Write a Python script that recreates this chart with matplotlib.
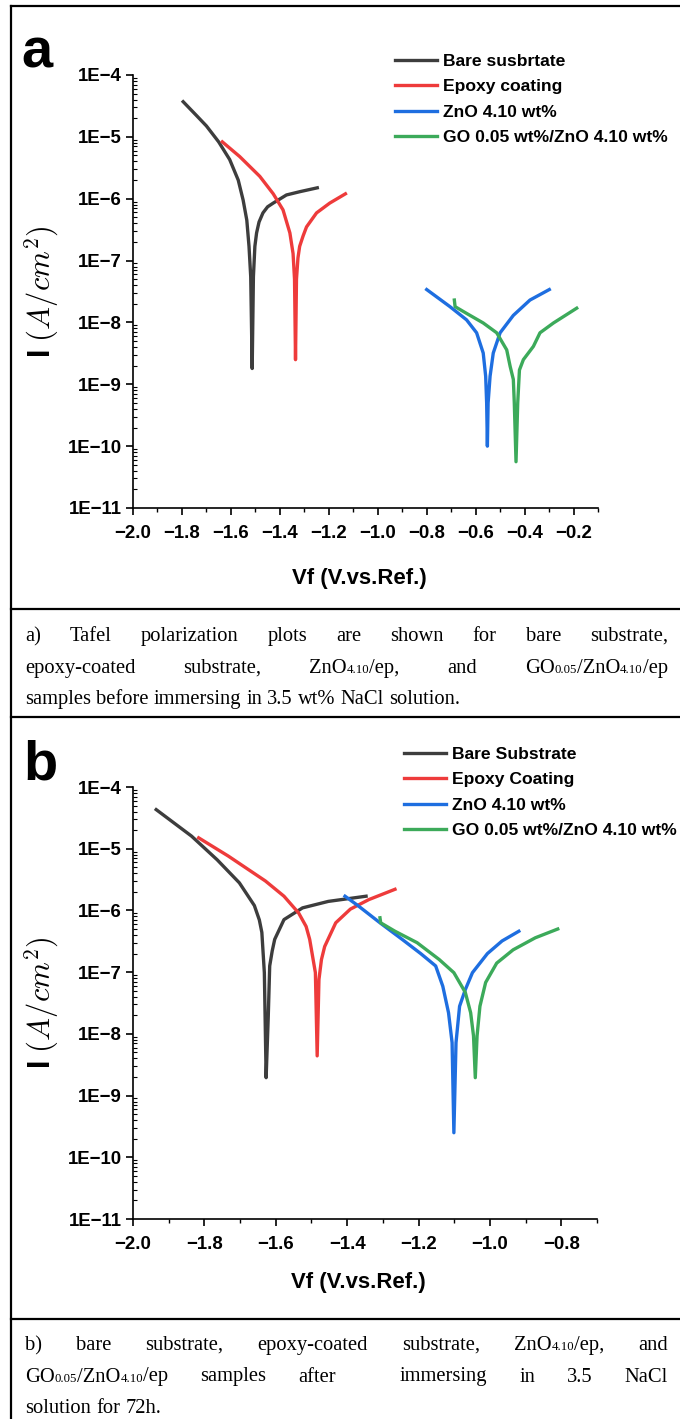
import matplotlib
matplotlib.use("Agg")
import numpy as np
import matplotlib.pyplot as plt
from matplotlib import font_manager
from matplotlib.lines import Line2D
from matplotlib.ticker import LogLocator, FuncFormatter, MultipleLocator, NullFormatter

# --------------------------
# Figure / fonts
# --------------------------
W, H, DPI = 680, 1419, 100

_names = {f.name for f in font_manager.fontManager.ttflist}
NARROW = "Liberation Sans Narrow" in _names
SANS = "Liberation Sans Narrow" if NARROW else "Liberation Sans"
FS = 1.0 if NARROW else 0.84   # shrink sizes when the narrow face is missing
SERIF = "Liberation Serif"

plt.rcParams["mathtext.fontset"] = "cm"

# --------------------------
# Data: potential (V) and current density (A/cm2)
# --------------------------
LABELS_A = ["Bare susbrtate", "Epoxy coating", "ZnO 4.10 wt%", "GO 0.05 wt%/ZnO 4.10 wt%"]
LABELS_B = ["Bare Substrate", "Epoxy Coating", "ZnO 4.10 wt%", "GO 0.05 wt%/ZnO 4.10 wt%"]
COLORS = ["#3d3d3d", "#ee3b3b", "#1e6ee0", "#3caa5a"]

# panel a (before immersion)
A_BARE_V = [-1.795, -1.74, -1.70, -1.65, -1.605, -1.57, -1.55, -1.535, -1.526, -1.519, -1.513,
            -1.508, -1.502, -1.495, -1.485, -1.469, -1.45, -1.427, -1.373, -1.318, -1.247]
A_BARE_I = [3.7e-5, 2.2e-5, 1.5e-5, 8.3e-6, 4.3e-6, 2.0e-6, 9.5e-7, 4.5e-7, 1.7e-7, 5.5e-8, 1.8e-9,
            5.5e-8, 1.7e-7, 2.8e-7, 4.2e-7, 5.9e-7, 7.4e-7, 8.5e-7, 1.15e-6, 1.3e-6, 1.5e-6]

A_EPOXY_V = [-1.635, -1.564, -1.482, -1.427, -1.387, -1.359, -1.346, -1.340, -1.336,
             -1.332, -1.326, -1.319, -1.305, -1.291, -1.250, -1.196, -1.132]
A_EPOXY_I = [8.3e-6, 4.8e-6, 2.3e-6, 1.2e-6, 6.6e-7, 2.8e-7, 1.3e-7, 5.0e-8, 2.5e-9,
             5.0e-8, 1.1e-7, 1.7e-7, 2.5e-7, 3.5e-7, 5.9e-7, 8.5e-7, 1.2e-6]

A_ZNO_V = [-0.800, -0.705, -0.637, -0.596, -0.569, -0.559, -0.555, -0.552,
           -0.549, -0.541, -0.528, -0.500, -0.446, -0.378, -0.299]
A_ZNO_I = [3.4e-8, 1.8e-8, 1.1e-8, 6.8e-9, 3.2e-9, 1.35e-9, 5.0e-10, 1.0e-10,
           5.0e-10, 1.35e-9, 3.2e-9, 6.8e-9, 1.3e-8, 2.3e-8, 3.4e-8]

A_GO_V = [-0.687, -0.684, -0.637, -0.569, -0.514, -0.473, -0.459, -0.446, -0.442, -0.435,
          -0.428, -0.421, -0.405, -0.364, -0.337, -0.282, -0.187]
A_GO_I = [2.3e-8, 1.8e-8, 1.4e-8, 9.8e-9, 6.8e-9, 3.6e-9, 1.95e-9, 1.2e-9, 5.0e-10, 5.6e-11,
          5.0e-10, 1.7e-9, 2.5e-9, 4.1e-9, 6.8e-9, 9.8e-9, 1.7e-8]

# panel b (after 72 h immersion)
B_BARE_V = [-1.935, -1.836, -1.764, -1.702, -1.660, -1.646, -1.639, -1.632, -1.627,
            -1.621, -1.617, -1.610, -1.603, -1.577, -1.525, -1.453, -1.347]
B_BARE_I = [4.3e-5, 1.6e-5, 6.6e-6, 2.8e-6, 1.2e-6, 7.0e-7, 4.4e-7, 9.8e-8, 1.95e-9,
            1.95e-8, 1.26e-7, 2.2e-7, 3.4e-7, 7.1e-7, 1.1e-6, 1.4e-6, 1.7e-6]

B_EPOXY_V = [-1.816, -1.733, -1.629, -1.577, -1.536, -1.515, -1.505, -1.489, -1.484,
             -1.479, -1.472, -1.463, -1.432, -1.391, -1.339, -1.266]
B_EPOXY_I = [1.5e-5, 7.6e-6, 3.0e-6, 1.7e-6, 9.1e-7, 5.5e-7, 3.4e-7, 9.8e-8, 4.4e-9,
             7.6e-8, 1.6e-7, 2.6e-7, 6.3e-7, 1.05e-6, 1.5e-6, 2.2e-6]

B_ZNO_V = [-1.406, -1.370, -1.308, -1.246, -1.194, -1.152, -1.132, -1.116, -1.106, -1.101,
           -1.095, -1.085, -1.069, -1.049, -1.007, -0.966, -0.919]
B_ZNO_I = [1.7e-6, 1.2e-6, 6.3e-7, 3.4e-7, 2.0e-7, 1.26e-7, 5.9e-8, 2.2e-8, 7.2e-9, 2.5e-10,
           7.2e-9, 2.8e-8, 5.2e-8, 9.8e-8, 2.0e-7, 3.2e-7, 4.6e-7]

B_GO_V = [-1.308, -1.306, -1.266, -1.204, -1.142, -1.101, -1.069, -1.054, -1.046, -1.041,
          -1.036, -1.028, -1.012, -0.981, -0.935, -0.873, -0.810]
B_GO_I = [7.6e-7, 6.3e-7, 4.6e-7, 3.0e-7, 1.6e-7, 9.8e-8, 4.7e-8, 2.2e-8, 9.3e-9, 1.95e-9,
          9.3e-9, 2.8e-8, 6.8e-8, 1.4e-7, 2.3e-7, 3.6e-7, 5.0e-7]

X_TICKS_A = [-2.0, -1.8, -1.6, -1.4, -1.2, -1.0, -0.8, -0.6, -0.4, -0.2]
X_TICKS_B = [-2.0, -1.8, -1.6, -1.4, -1.2, -1.0, -0.8]

CAPTION_A = [
    ("a) Tafel polarization plots are shown for bare substrate,", True),
    ("epoxy-coated substrate, ZnO_4.10_/ep, and GO_0.05_/ZnO_4.10_/ep", True),
    ("samples before immersing in 3.5 wt% NaCl solution.", False),
]
CAPTION_B = [
    ("b) bare substrate, epoxy-coated substrate, ZnO_4.10_/ep, and", True),
    ("GO_0.05_/ZnO_4.10_/ep samples after  immersing in 3.5 NaCl", True),
    ("solution for 72h.", False),
]


# --------------------------
# Helpers
# --------------------------
def px_box(left, top, right, bottom):
    return [left / W, 1 - bottom / H, (right - left) / W, (bottom - top) / H]


def hline(fig, y, x0=11, x1=W):
    fig.add_artist(Line2D([x0 / W, x1 / W], [1 - y / H, 1 - y / H],
                          color="black", lw=1.6, transform=fig.transFigure))


def exp_label(v, pos):
    return "1E\u2212%d" % round(-np.log10(v))


def draw_panel(fig, box, xlim, xticks, series, labels, legend_xy, xlabel_y):
    ax = fig.add_axes(px_box(*box))
    for (v, i), lab, c in zip(series, labels, COLORS):
        ax.plot(v, i, color=c, lw=2.4, label=lab, solid_joinstyle="round")

    ax.set_yscale("log")
    ax.set_ylim(1e-11, 1e-4)
    ax.set_xlim(*xlim)
    ax.set_xticks(xticks)
    ax.xaxis.set_minor_locator(MultipleLocator(0.1))
    ax.yaxis.set_major_locator(LogLocator(base=10, numticks=20))
    ax.yaxis.set_minor_locator(LogLocator(base=10, subs=np.arange(2, 10), numticks=20))
    ax.yaxis.set_major_formatter(FuncFormatter(exp_label))
    ax.yaxis.set_minor_formatter(NullFormatter())
    ax.xaxis.set_major_formatter(FuncFormatter(lambda v, p: ("%.1f" % v).replace("-", "\u2212")))

    for s in ["top", "right"]:
        ax.spines[s].set_visible(False)
    for s in ["left", "bottom"]:
        ax.spines[s].set_linewidth(1.2)

    ax.tick_params(which="major", direction="out", length=5, width=1.2, pad=3)
    ax.tick_params(axis="x", which="major", pad=7)
    ax.tick_params(axis="y", which="minor", direction="in", length=3, width=0.8)
    ax.tick_params(axis="x", which="minor", direction="out", length=3, width=1.0)
    for t in ax.get_xticklabels() + ax.get_yticklabels():
        t.set_fontfamily(SANS)
        t.set_fontweight("bold")
        t.set_fontsize(16 * FS)

    ax.set_xlabel("Vf (V.vs.Ref.)", family=SANS, weight="bold", fontsize=19 * FS)
    ax.xaxis.set_label_coords(0.486, xlabel_y)
    ax.set_ylabel(r"I $(A/cm^2)$", family=SANS, weight="bold", fontsize=22, va="center")
    ax.yaxis.set_label_coords((42 - box[0]) / (box[2] - box[0]), 0.5)

    ax.legend(loc="upper left", bbox_to_anchor=(legend_xy[0] / W, 1 - legend_xy[1] / H),
              bbox_transform=fig.transFigure, frameon=False, borderpad=0, borderaxespad=0,
              handlelength=2.4, handletextpad=0.35, labelspacing=0.57,
              prop={"family": SANS, "weight": "bold", "size": 15 * FS})
    return ax


def split_runs(word):
    # "ZnO_4.10_/ep" -> [("ZnO", False), ("4.10", True), ("/ep", False)]
    parts = word.split("_")
    return [(p, k % 2 == 1) for k, p in enumerate(parts) if p]


def draw_caption(fig, lines, first_baseline, x0, x1, size, line_h):
    r = fig.canvas.get_renderer()

    def width(s, sz):
        t = fig.text(0, 0, s, family=SERIF, fontsize=sz)
        w = t.get_window_extent(r).width
        t.remove()
        return w

    space = width("a a", size) - width("aa", size)
    for n, (line, justify) in enumerate(lines):
        y = 1 - (first_baseline + n * line_h) / H
        words = line.split(" ")
        gaps = []
        items = []
        for w in words:
            if w == "":
                gaps[-1] += 1
                continue
            items.append(split_runs(w))
            gaps.append(1)
        gaps = gaps[:-1]
        widths = [sum(width(s, size * (0.62 if sm else 1.0)) for s, sm in runs) for runs in items]
        if justify and gaps:
            unit = (x1 - x0 - sum(widths)) / sum(gaps)
        else:
            unit = space
        x = x0
        for k, runs in enumerate(items):
            for s, sm in runs:
                sz = size * (0.62 if sm else 1.0)
                fig.text(x / W, y, s, family=SERIF, fontsize=sz, va="baseline", ha="left")
                x += width(s, sz)
            if k < len(gaps):
                x += unit * gaps[k]


# --------------------------
# Main
# --------------------------
def main():
    fig = plt.figure(figsize=(W / DPI, H / DPI), dpi=DPI)
    fig.patch.set_facecolor("white")

    series_a = [(A_BARE_V, A_BARE_I), (A_EPOXY_V, A_EPOXY_I), (A_ZNO_V, A_ZNO_I), (A_GO_V, A_GO_I)]
    series_b = [(B_BARE_V, B_BARE_I), (B_EPOXY_V, B_EPOXY_I), (B_ZNO_V, B_ZNO_I), (B_GO_V, B_GO_I)]

    draw_panel(fig, (133, 75, 598, 508), (-2.0, -0.1), X_TICKS_A, series_a, LABELS_A,
               (395, 54), -0.139)
    draw_panel(fig, (133, 787, 597, 1219), (-2.0, -0.7), X_TICKS_B, series_b, LABELS_B,
               (404, 747), -0.123)

    fig.text(21 / W, 1 - 68 / H, "a", family=SANS, weight="bold", fontsize=48 * FS, va="baseline")
    fig.text(23 / W, 1 - 779 / H, "b", family=SANS, weight="bold", fontsize=48 * FS, va="baseline")

    # frame lines
    hline(fig, 6)
    hline(fig, 609)
    hline(fig, 717)
    hline(fig, 1319)
    fig.add_artist(Line2D([11 / W, 11 / W], [1 - 6 / H, 0], color="black", lw=1.6,
                          transform=fig.transFigure))

    draw_caption(fig, CAPTION_A, 641, 25, 668, 14.8, 31.5)
    draw_caption(fig, CAPTION_B, 1350, 25, 668, 14.8, 31.5)

    fig.savefig("out.png", dpi=DPI)
    plt.close(fig)


if __name__ == "__main__":
    main()
